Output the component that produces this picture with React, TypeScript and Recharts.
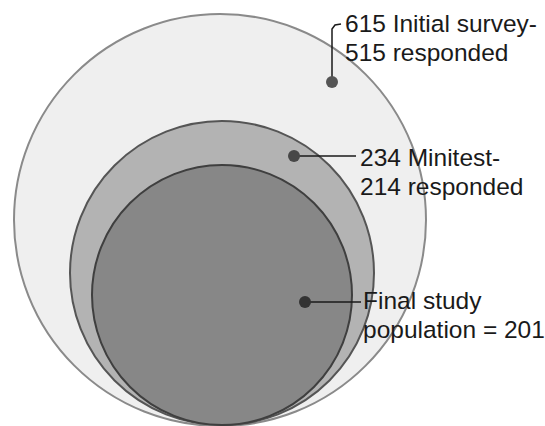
import { ScatterChart, Scatter, XAxis, YAxis } from "recharts";

// nested population circles (diagram units = px)
const circleNames = ["Initial survey", "Minitest", "Final study population"];
const circleX = [220, 222, 222];
const circleY = [220, 273, 295];
const circleR = [206, 152, 130];
const circleFill = ["#efefef", "#b3b3b3", "#878787"];
const circleStroke = ["#8a8a8a", "#555555", "#3f3f3f"];

// marker dots and their labels
const markerX = [332, 294, 305];
const markerY = [82, 156, 302];
const markerColor = ["#555555", "#474747", "#333333"];

const labelX = [345, 360, 363];
const labelY = [32, 166, 309];
const labelLine1 = ["615 Initial survey-", "234 Minitest-", "Final study"];
const labelLine2 = ["515 responded", "214 responded", "population = 201"];

// leader lines
const leaderInitialX = [332, 332, 335, 341];
const leaderInitialY = [82, 29, 25, 24];
const leaderMinitestX = [294, 356];
const leaderMinitestY = [156, 156];
const leaderFinalX = [305, 361];
const leaderFinalY = [302, 302];

const circles = circleNames.map((name, i) => ({
  name,
  x: circleX[i],
  y: circleY[i],
  r: circleR[i],
  fill: circleFill[i],
  stroke: circleStroke[i],
}));

const markers = markerX.map((x, i) => ({ x, y: markerY[i], color: markerColor[i] }));

const labels = labelX.map((x, i) => ({
  x,
  y: labelY[i],
  line1: labelLine1[i],
  line2: labelLine2[i],
}));

const toPoints = (xs: number[], ys: number[]) => xs.map((x, i) => ({ x, y: ys[i] }));
const leaders = [
  toPoints(leaderInitialX, leaderInitialY),
  toPoints(leaderMinitestX, leaderMinitestY),
  toPoints(leaderFinalX, leaderFinalY),
];

const FONT = "'Liberation Sans', Arial, Helvetica, sans-serif";

// eslint-disable-next-line @typescript-eslint/no-explicit-any
const CircleShape = (props: any) => {
  const { cx, cy, payload } = props;
  return (
    <circle cx={cx} cy={cy} r={payload.r} fill={payload.fill} stroke={payload.stroke} strokeWidth={2} />
  );
};

// eslint-disable-next-line @typescript-eslint/no-explicit-any
const MarkerShape = (props: any) => {
  const { cx, cy, payload } = props;
  return <circle cx={cx} cy={cy} r={6} fill={payload.color} />;
};

// eslint-disable-next-line @typescript-eslint/no-explicit-any
const LabelShape = (props: any) => {
  const { cx, cy, payload } = props;
  return (
    <text x={cx} y={cy} fill="#1a1a1a" fontSize={24.5} fontFamily={FONT}>
      <tspan x={cx} y={cy}>{payload.line1}</tspan>
      <tspan x={cx} dy={28.5}>{payload.line2}</tspan>
    </text>
  );
};

export default function App() {
  return (
    <div style={{ position: "absolute", left: 0, top: 0 }}>
      <ScatterChart width={545} height={426} margin={{ top: 0, right: 0, bottom: 0, left: 0 }}>
        <XAxis type="number" dataKey="x" domain={[0, 545]} hide />
        <YAxis type="number" dataKey="y" domain={[0, 426]} reversed hide />
        <Scatter data={circles} shape={CircleShape} isAnimationActive={false} />
        {leaders.map((pts, i) => (
          <Scatter
            key={i}
            data={pts}
            line={{ stroke: "#1a1a1a", strokeWidth: 1.5 }}
            lineType="joint"
            shape={() => <g />}
            isAnimationActive={false}
          />
        ))}
        <Scatter data={markers} shape={MarkerShape} isAnimationActive={false} />
        <Scatter data={labels} shape={LabelShape} isAnimationActive={false} />
      </ScatterChart>
    </div>
  );
}
